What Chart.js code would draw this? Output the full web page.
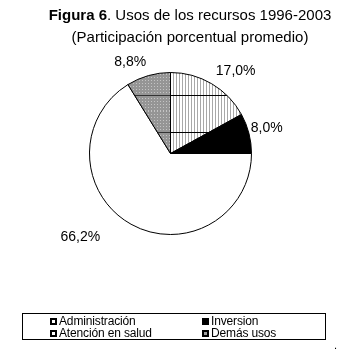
<!DOCTYPE html>
<html>
<head>
<meta charset="utf-8">
<script src="https://cdn.jsdelivr.net/npm/chart.js@4"></script>
<style>
  html, body { margin:0; padding:0; background:#fff; }
  #wrap { position:relative; width:354px; height:352px; overflow:hidden; font-family:"Liberation Sans", Arial, sans-serif; color:#000; }
  #c { position:absolute; left:0; top:0; }
  .title { position:absolute; left:0; width:380px; text-align:center; font-size:15px; line-height:17px; white-space:pre; }
  #legend { position:absolute; left:22px; top:313px; width:304px; height:27px; border:1px solid #000; box-sizing:border-box; }
  .item { position:absolute; height:11px; font-size:12px; line-height:11px; white-space:nowrap; letter-spacing:-0.15px; display:flex; align-items:center; }
  .mark { display:block; width:7px; height:7px; box-sizing:border-box; border:2px solid #000; margin-right:2px; flex:none; }
  #dot { position:absolute; left:334px; top:340px; font-size:11px; line-height:11px; }
</style>
</head>
<body>
<div id="wrap">
  <canvas id="c" width="354" height="352"></canvas>
  <div class="title" style="top:6px"><b>Figura 6</b>. Usos de los recursos 1996-2003</div>
  <div class="title" style="top:28px">(Participación porcentual promedio)</div>
  <div id="legend"></div>
  <div id="dot">.</div>
</div>
<script>
const categories = ["Administración", "Inversion", "Atención en salud", "Demás usos"];
const values = [17.0, 8.0, 66.2, 8.8];
const valueLabels = ["17,0%", "8,0%", "66,2%", "8,8%"];

function stripePattern() {
  const t = document.createElement('canvas'); t.width = 3; t.height = 37;
  const x = t.getContext('2d');
  x.fillStyle = '#ffffff'; x.fillRect(0,0,3,37);
  x.fillStyle = '#a8a8a8'; x.fillRect(2,0,1,37);
  x.fillStyle = '#000000'; x.fillRect(0,21,3,1);
  return x.createPattern(t, 'repeat');
}
function dotPattern() {
  const t = document.createElement('canvas'); t.width = 3; t.height = 37;
  const x = t.getContext('2d');
  x.fillStyle = '#959595'; x.fillRect(0,0,3,37);
  x.fillStyle = '#c4c4c4';
  for (let yy = 0; yy < 37; yy += 3) x.fillRect(1, yy, 1, 1);
  x.fillStyle = '#333333'; x.fillRect(0,21,3,1);
  return x.createPattern(t, 'repeat');
}
const fills = [stripePattern(), '#000000', '#ffffff', dotPattern()];
const legendFills = ['#ffffff', '#000000', '#ffffff', '#a0a0a0'];

const labelPlugin = {
  id: 'outsideLabels',
  afterDatasetsDraw(chart) {
    const ctx = chart.ctx;
    const meta = chart.getDatasetMeta(0);
    ctx.save();
    ctx.font = '14px "Liberation Sans", Arial, sans-serif';
    ctx.fillStyle = '#000';
    ctx.textAlign = 'center';
    ctx.textBaseline = 'middle';
    const nudge = [[0, 0], [-6, 3], [-27, 0], [0, 0]];
    meta.data.forEach((arc, i) => {
      const p = arc.getProps(['x','y','startAngle','endAngle','outerRadius'], true);
      const mid = (p.startAngle + p.endAngle) / 2;
      const r = p.outerRadius + 8;
      const cx = Math.cos(mid), cy = Math.sin(mid);
      const w = ctx.measureText(valueLabels[i]).width;
      const tx = p.x + r * cx + Math.sign(cx) * w / 2 + nudge[i][0];
      const ty = p.y + r * cy + Math.sign(cy) * 6 + nudge[i][1];
      ctx.fillText(valueLabels[i], tx, ty);
    });
    ctx.restore();
  }
};

new Chart(document.getElementById('c'), {
  type: 'pie',
  data: {
    labels: categories,
    datasets: [{
      data: values,
      backgroundColor: fills,
      borderColor: '#000000',
      borderWidth: 1,
      hoverOffset: 0
    }]
  },
  options: {
    responsive: false,
    animation: false,
    events: [],
    layout: { padding: { left: 89, right: 102, top: 72, bottom: 117 } },
    plugins: { legend: { display: false }, tooltip: { enabled: false }, title: { display: false } }
  },
  plugins: [labelPlugin]
});

const legend = document.getElementById('legend');
const cols = [27, 179], rows = [2, 13.5];
categories.forEach((name, i) => {
  const d = document.createElement('div');
  d.className = 'item';
  d.style.left = cols[i % 2] + 'px';
  d.style.top = rows[Math.floor(i / 2)] + 'px';
  const m = document.createElement('span');
  m.className = 'mark';
  m.style.background = legendFills[i];
  d.appendChild(m);
  const s = document.createElement('span');
  s.textContent = name;
  d.appendChild(s);
  legend.appendChild(d);
});
</script>
</body>
</html>
